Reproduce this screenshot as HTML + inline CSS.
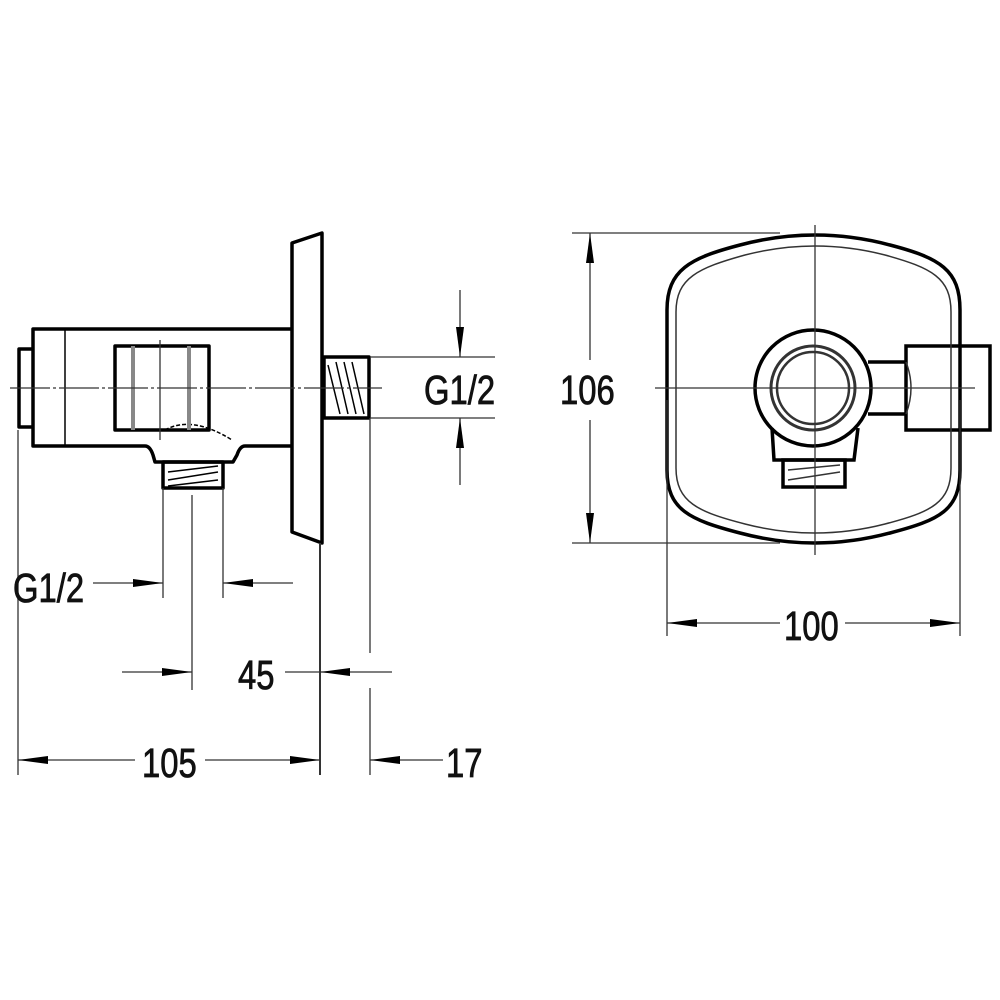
<!DOCTYPE html>
<html><head><style>body{margin:0;background:#fff}svg{display:block}</style></head><body>
<svg width="1000" height="1000" viewBox="0 0 1000 1000" xmlns="http://www.w3.org/2000/svg">
<defs>
<marker id="a" markerWidth="30" markerHeight="10" refX="30" refY="5" orient="auto" markerUnits="userSpaceOnUse"><path d="M0,1 L30,5 L0,9 Z" fill="#000"/></marker>
</defs>
<g fill="none" stroke="#000" stroke-width="3.5" stroke-linejoin="round">
<path d="M292,243 L322,233 L322,543 L292,532 Z"/>
<path d="M292,329 L33,329 L33,446 L145,446 Q150,446 153,455 L155,462 L233,462 L237,455 Q240,446 245,446 L292,446"/>
<path d="M33,349 L19,349 L19,427 L33,427"/>
<rect x="115" y="346" width="94" height="84"/>
<rect x="163" y="462" width="60" height="26"/>
<rect x="324" y="357" width="45" height="61"/>
</g>
<g fill="none" stroke="#000" stroke-width="1.5">
<line x1="65" y1="329" x2="65" y2="446"/>
<path d="M165,430 Q192,415 232,440" stroke-dasharray="4 2"/>
<line x1="168" y1="472" x2="218" y2="466"/><line x1="168" y1="480" x2="218" y2="472"/><line x1="168" y1="486" x2="218" y2="480"/>
<line x1="328" y1="365" x2="340" y2="414"/><line x1="336" y1="362" x2="348" y2="414"/><line x1="344" y1="362" x2="356" y2="414"/><line x1="352" y1="362" x2="364" y2="414"/>
</g>
<g stroke="#888" stroke-width="4"><line x1="133" y1="346" x2="133" y2="430"/><line x1="189" y1="346" x2="189" y2="430"/></g>
<g stroke="#333" stroke-width="1.3" fill="none">
<line x1="10" y1="388" x2="382" y2="388" stroke-dasharray="40 3 3 3"/>
<line x1="160" y1="340" x2="160" y2="440"/>
<line x1="370" y1="357" x2="495" y2="357"/><line x1="370" y1="418" x2="495" y2="418"/>
<line x1="18" y1="430" x2="18" y2="775"/>
<line x1="163" y1="488" x2="163" y2="598"/><line x1="223" y1="488" x2="223" y2="598"/>
<line x1="192" y1="495" x2="192" y2="690"/>
<line x1="320" y1="543" x2="320" y2="775" stroke-width="2"/>
<line x1="370" y1="418" x2="370" y2="653"/><line x1="370" y1="688" x2="370" y2="775"/>
<line x1="460" y1="290" x2="460" y2="357" marker-end="url(#a)"/>
<line x1="460" y1="485" x2="460" y2="418" marker-end="url(#a)"/>
<line x1="93" y1="583" x2="163" y2="583" marker-end="url(#a)"/>
<line x1="293" y1="583" x2="223" y2="583" marker-end="url(#a)"/>
<line x1="122" y1="672" x2="192" y2="672" marker-end="url(#a)"/>
<line x1="285" y1="672" x2="320" y2="672"/>
<line x1="392" y1="672" x2="320" y2="672" marker-end="url(#a)"/>
<line x1="135" y1="760" x2="18" y2="760" marker-end="url(#a)"/>
<line x1="205" y1="760" x2="320" y2="760" marker-end="url(#a)"/>
<line x1="443" y1="760" x2="370" y2="760" marker-end="url(#a)"/>
</g>
<g fill="none" stroke="#000" stroke-width="3.5">
<path d="M667,310 C667,270 690,258 740,245 Q815,225 890,245 C940,258 960,270 960,310 L960,470 C960,510 940,520 890,533 Q815,553 740,533 C690,520 667,510 667,470 Z"/>
<circle cx="813" cy="388" r="58"/>
<path d="M868,362 L906,362 M868,414 L906,414"/>
<rect x="906" y="346" width="84" height="84"/>
<path d="M772,428 L774,460 L854,460 L858,428"/>
<rect x="783" y="460" width="62" height="27"/>
</g>
<g fill="none" stroke="#333" stroke-width="1.5">
<path d="M676,312 C676,278 698,268 745,255 Q815,237 885,255 C932,268 951,278 951,312 L951,468 C951,502 932,512 885,524 Q815,542 745,524 C698,512 676,502 676,468 Z"/>
<circle cx="813" cy="388" r="42" stroke-width="3"/><circle cx="813" cy="388" r="36" stroke-width="2.5"/>
<path d="M906,362 Q916,388 906,414"/>
<line x1="788" y1="470" x2="840" y2="465"/><line x1="788" y1="480" x2="840" y2="472"/>
</g>
<g stroke="#333" stroke-width="1.3" fill="none">
<line x1="655" y1="388" x2="975" y2="388"/>
<line x1="815" y1="225" x2="815" y2="555"/>
<line x1="572" y1="233" x2="780" y2="233"/><line x1="572" y1="543" x2="780" y2="543"/>
<line x1="667" y1="400" x2="667" y2="636"/><line x1="960" y1="400" x2="960" y2="636"/>
<line x1="590" y1="360" x2="590" y2="233" marker-end="url(#a)"/>
<line x1="590" y1="420" x2="590" y2="543" marker-end="url(#a)"/>
<line x1="780" y1="623" x2="667" y2="623" marker-end="url(#a)"/>
<line x1="845" y1="623" x2="960" y2="623" marker-end="url(#a)"/>
</g>
<g font-family="Liberation Sans, sans-serif" font-size="41" fill="#111" stroke="#111" stroke-width="0.8">
<text transform="translate(424,404) scale(0.8,1)">G1/2</text>
<text transform="translate(13,602) scale(0.8,1)">G1/2</text>
<text transform="translate(238,689) scale(0.8,1)">45</text>
<text transform="translate(142,777) scale(0.8,1)">105</text>
<text transform="translate(446,777) scale(0.8,1)">17</text>
<text transform="translate(560,404) scale(0.8,1)">106</text>
<text transform="translate(784,640) scale(0.8,1)">100</text>
</g>
</svg>
</body></html>
